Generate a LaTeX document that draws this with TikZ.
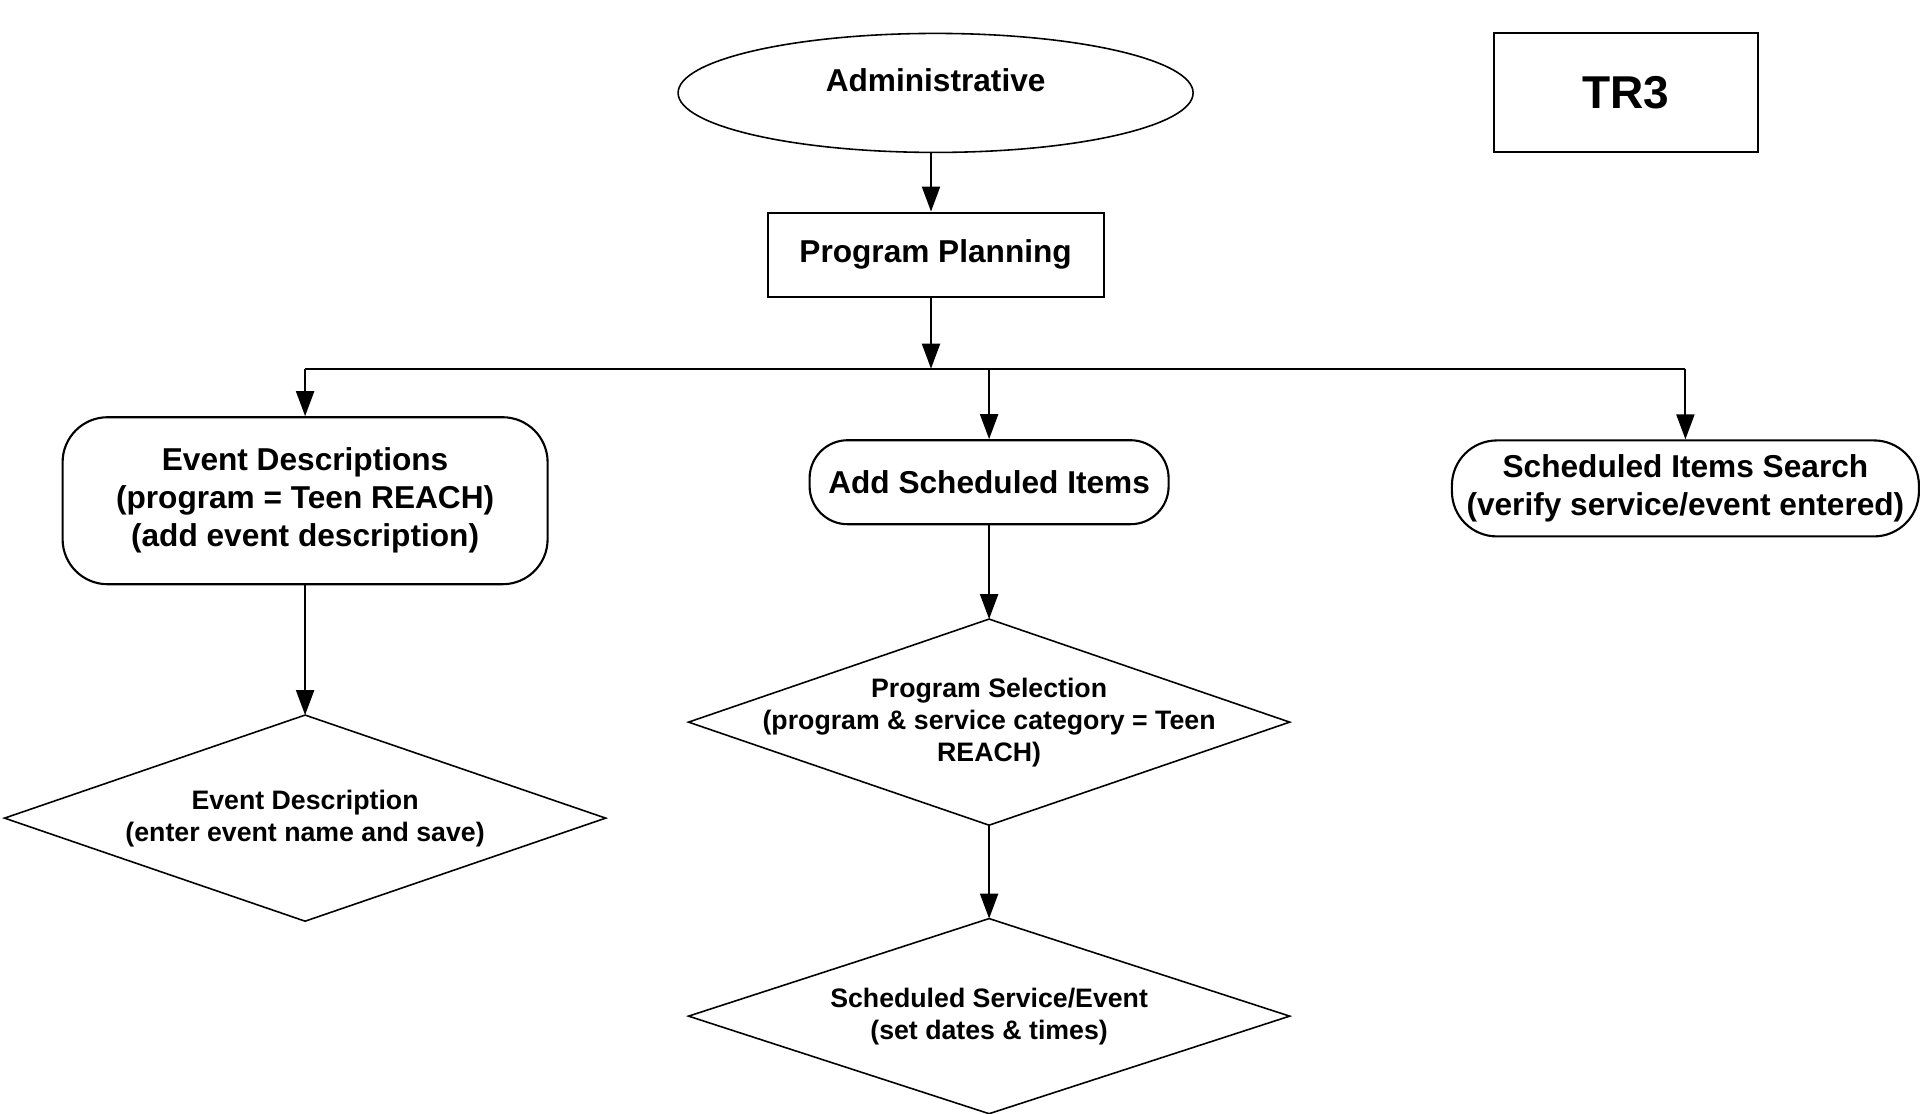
\documentclass[tikz,border=0pt]{standalone}
\usepackage{fontspec}
\setmainfont{Liberation Sans}
\usetikzlibrary{arrows.meta,shapes.geometric}
\usetikzlibrary{positioning}
\tikzset{
    box/.style={
           rectangle,
           draw=black, line width=0.6pt,
           inner sep=2pt,
           align=center,
           font=\bfseries\fontsize{9}{10.8}\selectfont,
           },
    roundbox/.style={
           box,
           rounded corners=4.5mm,
           },
    decision/.style={
           rectangle,
        %   draw=black,
           minimum width=59.9mm, minimum height=20.4mm,
           inner sep=0pt,
           align=center,
           font=\bfseries\fontsize{7.6}{9.1}\selectfont,
           },
}
\begin{document}
\begin{tikzpicture}[->,>={Triangle[length=2.5mm,width=1.8mm]}, line width=0.6pt]
        \useasboundingbox (0,0) rectangle (19.29,-11.13);
        \node[box, ellipse, minimum width=51.5mm, minimum height=11.9mm, line width=0.45pt] (admin) at (9.356,-0.929) {\raisebox{2.6mm}{Administrative}};
        \node[box, below of = admin, minimum width=33.6mm, minimum height=8.4mm, node distance=1.617cm] (plan) {Program Planning};
        \node[box, right of = admin, minimum width=26.4mm, minimum height=11.9mm, node distance=6.901cm, font=\bfseries\fontsize{13.1}{15}\selectfont] (tr) {TR3};
        \node[roundbox, below of = plan, xshift=-6.305cm, minimum width=48.5mm, minimum height=16.7mm, node distance=2.461cm] (evdesc) {Event Descriptions\\(program = Teen REACH)\\(add event description)};
        \node[roundbox, below of = plan, xshift=0.535cm, minimum width=35.9mm, minimum height=8.4mm, rounded corners=3.8mm, node distance=2.276cm] (additems) {Add Scheduled Items};
        \node[roundbox, below of = plan, xshift=7.498cm, minimum width=46.7mm, minimum height=9.6mm, node distance=2.338cm, inner sep=0pt] (search) {Scheduled Items Search\\(verify service/event entered)};
        \node[decision, below of = evdesc, node distance=3.174cm] (desc) {Event Description\\(enter event name and save)};
        \node[decision, below of = additems, node distance=2.399cm] (progsel) {Program Selection\\(program \& service category = Teen\\REACH)};
        \node[decision, below of = progsel, minimum height=19.3mm, node distance=2.94cm] (sched) {Scheduled Service/Event\\(set dates \& times)};
        \coordinate[below=7.1mm of plan, xshift=-0.46mm] (split);

        \foreach \d in {desc,progsel,sched}
            \draw[-, line width=0.45pt] (\d.north) -- (\d.east) -- (\d.south) -- (\d.west) -- cycle;

        \path ([xshift=-0.46mm]admin.south) edge ([xshift=-0.46mm]plan.north)
        ([xshift=-0.46mm]plan.south) edge (split)
        (split -| evdesc) edge[-] (split -| search)
        (split -| evdesc) edge (evdesc)
        (split -| additems) edge (additems)
        (split -| search) edge (search)
        (evdesc) edge (desc)
        (additems) edge (progsel)
        (progsel) edge (sched)
        ;
    \end{tikzpicture}
\end{document}
